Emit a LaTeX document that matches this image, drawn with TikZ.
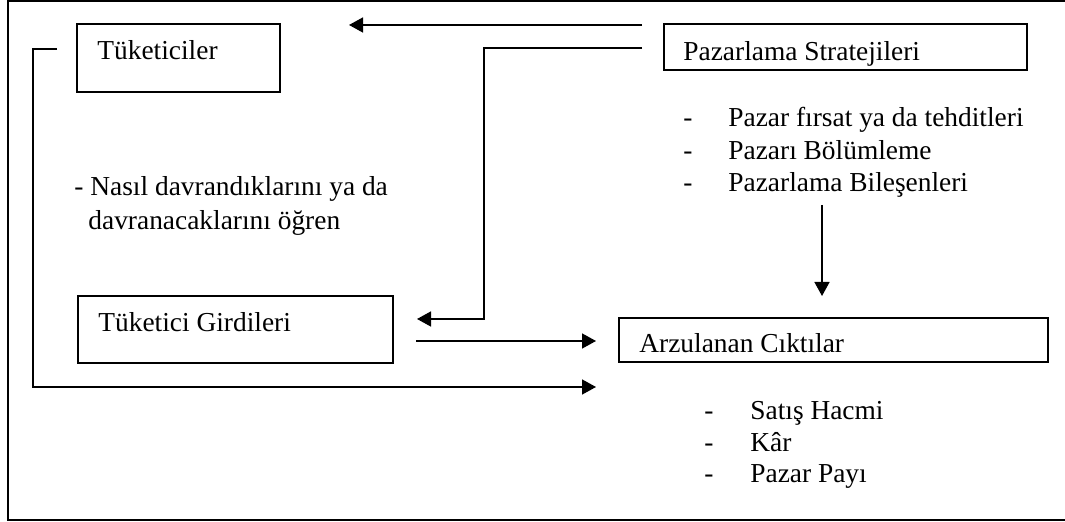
\documentclass[tikz,border=0pt]{standalone}
\usepackage{fontspec}
\setmainfont{Liberation Serif}
\usetikzlibrary{arrows.meta}
\begin{document}
\begin{tikzpicture}[x=0.5pt,y=-0.5pt,
  box/.style={draw, line width=0.75pt, inner sep=0pt, minimum width=#1},
  lbl/.style={anchor=base west, inner sep=0pt, font=\fontsize{13.7}{16}\selectfont},
  conn/.style={line width=0.75pt},
  arr/.style={conn, -{Triangle[length=7pt,width=7.5pt]}},
  frame/.style={line width=1pt}]
\useasboundingbox (0,0) rectangle (1065,522);

% open frame round the whole scheme
\draw[frame] (1065,1) -- (8,1) -- (8,520.5) -- (1065,520.5);

% boxes
\node[box=101.5pt, minimum height=34pt] (tuk) at (178.5,58) {};
\node[box=181.5pt, minimum height=23pt] (paz) at (845.5,47) {};
\node[box=157.5pt, minimum height=33.5pt] (gir) at (235.5,329.5) {};
\node[box=214.5pt, minimum height=22pt] (arz) at (833.5,340) {};

% box titles
\node[lbl] (tukT) at (97,60) {Tüketiciler};
\node[lbl] (pazT) at (683,61) {Pazarlama Stratejileri};
\node[lbl] (girT) at (98,332) {Tüketici Girdileri};
\node[lbl] (arzT) at (639,353) {Arzulanan Cıktılar};

% strategy items
\node[lbl] (s1) at (683,127) {\makebox[22.5pt][l]{-}Pazar fırsat ya da tehditleri};
\node[lbl] (s2) at (683,159.5) {\makebox[22.5pt][l]{-}Pazarı Bölümleme};
\node[lbl] (s3) at (683,192) {\makebox[22.5pt][l]{-}Pazarlama Bileşenleri};

% consumer note
\node[lbl] (n1) at (74,196) {- Nasıl davrandıklarını ya da};
\node[lbl] (n2) at (88,230) {davranacaklarını öğren};

% outcome items
\node[lbl] (o1) at (704,420) {\makebox[23pt][l]{-}Satış Hacmi};
\node[lbl] (o2) at (704,451.5) {\makebox[23pt][l]{-}Kâr};
\node[lbl] (o3) at (704,483) {\makebox[23pt][l]{-}Pazar Payı};

% connector ends
\coordinate (topS) at (642,25);
\coordinate (topE) at (349,25);
\coordinate (fbS) at (642,48);
\coordinate (fbC1) at (484,48);
\coordinate (fbC2) at (484,319);
\coordinate (fbE) at (417,319);
\coordinate (midS) at (416,341);
\coordinate (midE) at (596,341);
\coordinate (lpS) at (57,49);
\coordinate (lpC1) at (33,49);
\coordinate (lpC2) at (33,387);
\coordinate (lpE) at (596,387);
\coordinate (dnS) at (822,205);
\coordinate (dnE) at (822,296);

% connectors
\draw[arr] (topS) -- (topE);
\draw[arr] (fbS) -- (fbC1) -- (fbC2) -- (fbE);
\draw[arr] (midS) -- (midE);
\draw[arr] (lpS) -- (lpC1) -- (lpC2) -- (lpE);
\draw[arr] (dnS) -- (dnE);
\end{tikzpicture}
\end{document}
